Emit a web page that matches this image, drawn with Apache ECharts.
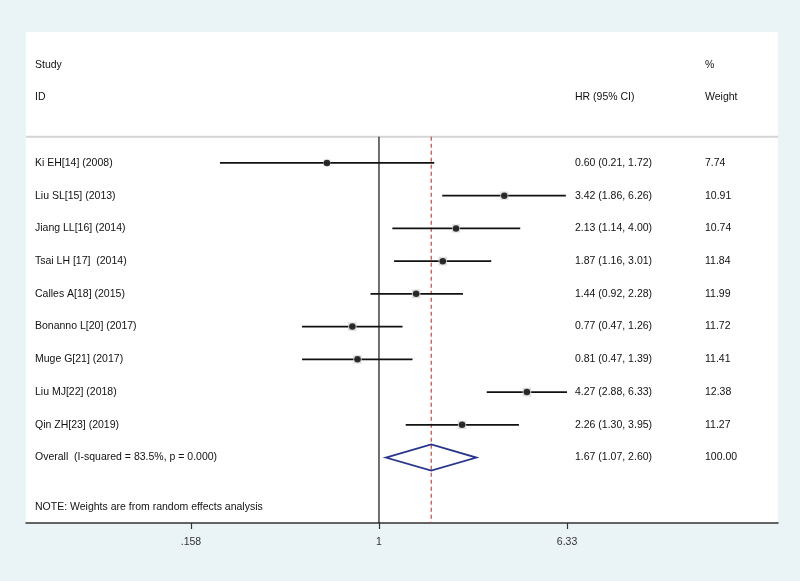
<!DOCTYPE html>
<html>
<head>
<meta charset="utf-8">
<script src="https://cdn.jsdelivr.net/npm/echarts@6/dist/echarts.min.js"></script>
<style>
html,body{margin:0;padding:0;background:#eaf3f6;}
#chart{width:800px;height:581px;}
</style>
</head>
<body>
<div id="chart"></div>
<script>
// ---- data ----
var studies = ["Ki EH[14] (2008)", "Liu SL[15] (2013)", "Jiang LL[16] (2014)", "Tsai LH [17]  (2014)", "Calles A[18] (2015)", "Bonanno L[20] (2017)", "Muge G[21] (2017)", "Liu MJ[22] (2018)", "Qin ZH[23] (2019)"];
var hr = [0.60, 3.42, 2.13, 1.87, 1.44, 0.77, 0.81, 4.27, 2.26];
var lower = [0.21, 1.86, 1.14, 1.16, 0.92, 0.47, 0.47, 2.88, 1.30];
var upper = [1.72, 6.26, 4.00, 3.01, 2.28, 1.26, 1.39, 6.33, 3.95];
var weights = [7.74, 10.91, 10.74, 11.84, 11.99, 11.72, 11.41, 12.38, 11.27];
var overallLabel = "Overall  (I-squared = 83.5%, p = 0.000)";
var overallHR = 1.67, overallLower = 1.07, overallUpper = 2.60, overallWeight = 100.00;
var tickValues = [0.158, 1, 6.33];
var tickLabels = [".158", "1", "6.33"];
var noteText = "NOTE: Weights are from random effects analysis";

// ---- layout constants ----
var X_MIN = 0.0313, X_MAX = 50.2;
var FONT = '10.5px "Liberation Sans", Arial, sans-serif';
var TXT = '#111';
var COL_LEFT = 35, COL_HR = 575, COL_W = 705;
var ROW_HEADER = -0.8;

var n = studies.length;
var ciData = [];
for (var i = 0; i < n; i++) ciData.push([lower[i], upper[i], i]);
var dotData = hr.map(function (v, i) { return [v, i]; });
var boxData = hr.map(function (v, i) { return [v, i, weights[i]]; });

var textRows = [];
textRows.push(["Study", COL_LEFT, -3]);
textRows.push(["%", COL_W, -3]);
textRows.push(["ID", COL_LEFT, -2]);
textRows.push(["HR (95% CI)", COL_HR, -2]);
textRows.push(["Weight", COL_W, -2]);
for (var j = 0; j < n; j++) {
  textRows.push([studies[j], COL_LEFT, j]);
  textRows.push([hr[j].toFixed(2) + " (" + lower[j].toFixed(2) + ", " + upper[j].toFixed(2) + ")", COL_HR, j]);
  textRows.push([weights[j].toFixed(2), COL_W, j]);
}
textRows.push([overallLabel, COL_LEFT, n]);
textRows.push([overallHR.toFixed(2) + " (" + overallLower.toFixed(2) + ", " + overallUpper.toFixed(2) + ")", COL_HR, n]);
textRows.push([overallWeight.toFixed(2), COL_W, n]);
textRows.push([noteText, COL_LEFT, n + 1.5]);

var chart = echarts.init(document.getElementById('chart'));
chart.setOption({
  backgroundColor: '#eaf3f6',
  animation: false,
  grid: { left: 26, right: 22, top: 32, bottom: 58, show: true, backgroundColor: '#fff', borderWidth: 0 },
  xAxis: {
    type: 'log', logBase: 10, min: X_MIN, max: X_MAX,
    splitLine: { show: false },
    axisLine: { show: true, onZero: false, lineStyle: { color: '#333', width: 1.5 } },
    axisTick: { show: true, customValues: tickValues, length: 6, lineStyle: { color: '#333', width: 1.2 } },
    axisLabel: {
      customValues: tickValues, margin: 14, color: '#333', fontSize: 10.5, fontFamily: '"Liberation Sans", Arial, sans-serif',
      formatter: function (v) {
        for (var k = 0; k < tickValues.length; k++) if (Math.abs(tickValues[k] - v) < 1e-6) return tickLabels[k];
        return '';
      }
    },
    minorTick: { show: false }
  },
  yAxis: { type: 'value', inverse: true, min: -4, max: 11, show: false },
  series: [
    {
      type: 'custom', name: 'header', silent: true, clip: false,
      data: [[X_MIN, ROW_HEADER, X_MAX]],
      renderItem: function (params, api) {
        var a = api.coord([api.value(0), api.value(1)]);
        var b = api.coord([api.value(2), api.value(1)]);
        return { type: 'line', shape: { x1: a[0], y1: a[1], x2: b[0], y2: b[1] }, style: { stroke: '#d4d4d4', lineWidth: 2 } };
      }
    },
    {
      type: 'custom', name: 'refs', silent: true,
      data: [[1, ROW_HEADER, 11, 0], [overallHR, ROW_HEADER, 11, 1]],
      renderItem: function (params, api) {
        var a = api.coord([api.value(0), api.value(1)]);
        var b = api.coord([api.value(0), api.value(2)]);
        var dashed = api.value(3) === 1;
        return { type: 'line', shape: { x1: a[0], y1: a[1], x2: b[0], y2: b[1] },
          style: dashed ? { stroke: '#bf4a42', lineWidth: 1.2, lineDash: [4, 3] } : { stroke: '#111', lineWidth: 1.2 } };
      }
    },
    {
      type: 'custom', name: 'ci', silent: true,
      data: ciData,
      renderItem: function (params, api) {
        var a = api.coord([api.value(0), api.value(2)]);
        var b = api.coord([api.value(1), api.value(2)]);
        return { type: 'line', shape: { x1: a[0], y1: a[1], x2: b[0], y2: b[1] }, style: { stroke: '#111', lineWidth: 1.8 } };
      }
    },
    {
      type: 'scatter', name: 'weight', silent: true, symbol: 'rect',
      symbolSize: function (v) { return Math.sqrt(v[2]) * 2.5; },
      itemStyle: { color: '#d6d6d6' },
      data: boxData
    },
    {
      type: 'scatter', name: 'hr', silent: true, symbol: 'circle', symbolSize: 6.5,
      itemStyle: { color: '#000' },
      data: dotData
    },
    {
      type: 'custom', name: 'overall', silent: true,
      data: [[overallLower, overallHR, overallUpper, n]],
      renderItem: function (params, api) {
        var r = api.value(3);
        var p1 = api.coord([api.value(0), r]);
        var p2 = api.coord([api.value(1), r - 0.4]);
        var p3 = api.coord([api.value(2), r]);
        var p4 = api.coord([api.value(1), r + 0.4]);
        return { type: 'polygon', shape: { points: [p1, p2, p3, p4] }, style: { fill: 'rgba(255,255,255,0)', stroke: '#27358a', lineWidth: 1.8 } };
      }
    },
    {
      type: 'custom', name: 'texts', silent: true, clip: false,
      data: textRows.map(function (t, k) { return [1, t[2], k]; }),
      renderItem: function (params, api) {
        var t = textRows[api.value(2)];
        var y = api.coord([1, t[2]])[1];
        return { type: 'text', x: t[1], y: y, style: { text: t[0], fill: TXT, font: FONT, align: 'left', verticalAlign: 'middle' } };
      }
    }
  ]
});
</script>
</body>
</html>
